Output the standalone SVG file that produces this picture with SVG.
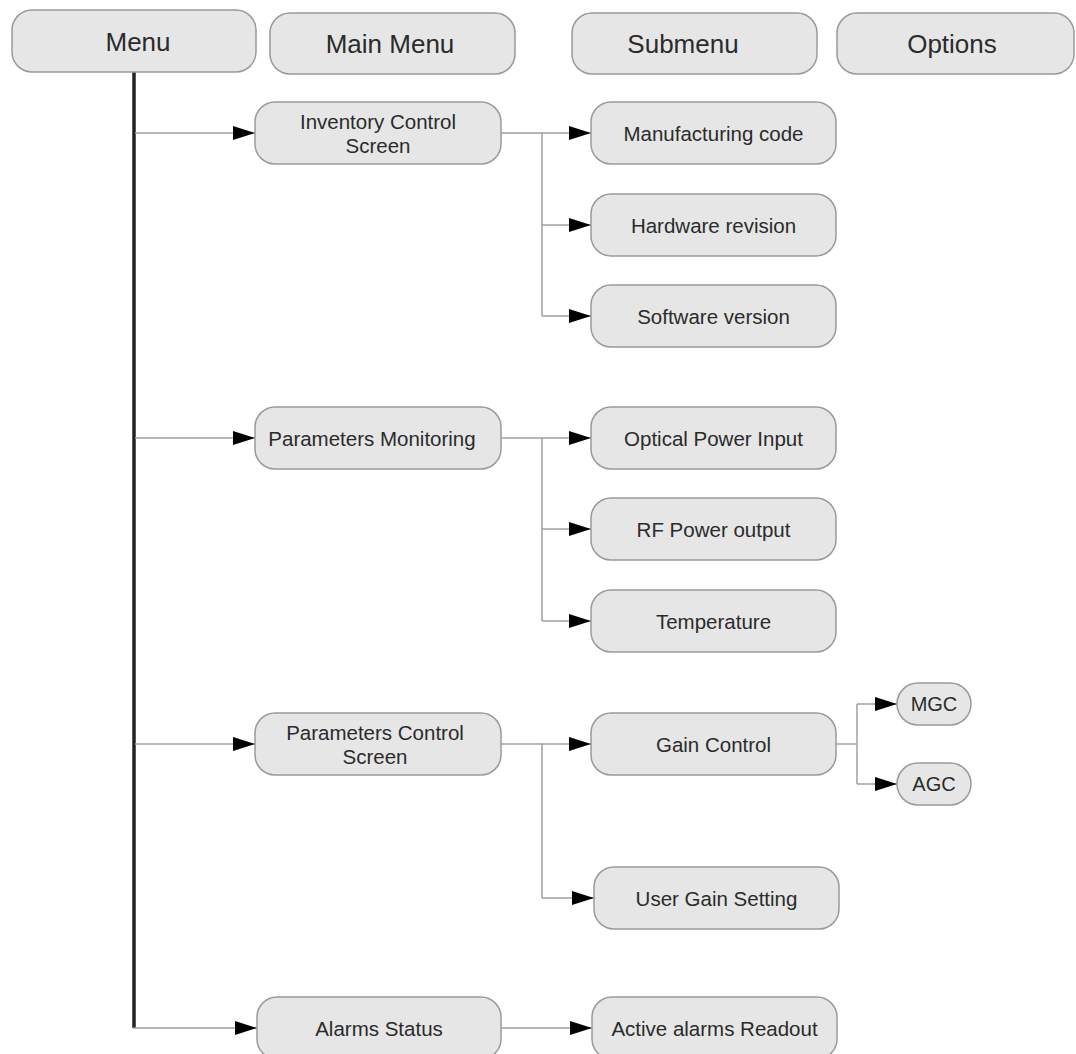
<svg xmlns="http://www.w3.org/2000/svg" width="1076" height="1054" viewBox="0 0 1076 1054">
<defs>
<style>
.box{fill:#e6e6e6;stroke:#9a9a9a;stroke-width:1.5}
.t{font-family:"Liberation Sans",Arial,sans-serif;font-size:20px;fill:#2b2b2b;text-anchor:middle;dominant-baseline:central}
.h{font-size:26px}
.s{font-size:20.5px}
.c{fill:none;stroke:#a0a0a0;stroke-width:1.5}
.main{fill:none;stroke:#222;stroke-width:3.5}
</style>
<marker id="arr" markerUnits="userSpaceOnUse" markerWidth="22" markerHeight="14" refX="22" refY="7" orient="auto">
<path d="M0,0 L22,7 L0,14 Z" fill="#000"/>
</marker>
</defs>
<rect width="1076" height="1054" fill="#fff"/>
<g id="connectors">
<path class="main" d="M134,72 V1028"/>
<path class="c" d="M135,133 H255" marker-end="url(#arr)"/>
<path class="c" d="M135,438 H255" marker-end="url(#arr)"/>
<path class="c" d="M135,744 H255" marker-end="url(#arr)"/>
<path class="c" d="M133,1028 H257" marker-end="url(#arr)"/>
<path class="c" d="M501,133 H542 V316"/>
<path class="c" d="M542,133 H591" marker-end="url(#arr)"/>
<path class="c" d="M542,225 H591" marker-end="url(#arr)"/>
<path class="c" d="M542,316 H591" marker-end="url(#arr)"/>
<path class="c" d="M501,438 H542 V621"/>
<path class="c" d="M542,438 H591" marker-end="url(#arr)"/>
<path class="c" d="M542,529 H591" marker-end="url(#arr)"/>
<path class="c" d="M542,621 H591" marker-end="url(#arr)"/>
<path class="c" d="M501,744 H542 V898"/>
<path class="c" d="M542,744 H591" marker-end="url(#arr)"/>
<path class="c" d="M542,898 H594" marker-end="url(#arr)"/>
<path class="c" d="M836,744 H857"/>
<path class="c" d="M857,704 V784"/>
<path class="c" d="M857,704 H897" marker-end="url(#arr)"/>
<path class="c" d="M857,784 H897" marker-end="url(#arr)"/>
<path class="c" d="M501,1028 H592" marker-end="url(#arr)"/>
</g>
<g id="hdr-menu"><rect class="box" x="12" y="10" width="244" height="62" rx="20"/><text class="t h" x="138" y="42">Menu</text></g>
<g id="hdr-mainmenu"><rect class="box" x="270" y="13" width="245" height="61" rx="20"/><text class="t h" x="390" y="44">Main Menu</text></g>
<g id="hdr-submenu"><rect class="box" x="572" y="13" width="245" height="61" rx="20"/><text class="t h" x="683" y="44">Submenu</text></g>
<g id="hdr-options"><rect class="box" x="837" y="13" width="237" height="61" rx="20"/><text class="t h" x="952" y="44">Options</text></g>
<g id="n-inventory"><rect class="box" x="255" y="102" width="246" height="62" rx="20"/><text class="t s" x="378" y="121">Inventory Control</text><text class="t s" x="378" y="145">Screen</text></g>
<g id="n-parmon"><rect class="box" x="255" y="407" width="246" height="62" rx="20"/><text class="t s" x="372" y="438">Parameters Monitoring</text></g>
<g id="n-parctl"><rect class="box" x="255" y="713" width="246" height="62" rx="20"/><text class="t s" x="375" y="732">Parameters Control</text><text class="t s" x="375" y="756">Screen</text></g>
<g id="n-alarms"><rect class="box" x="257" y="997" width="244" height="62" rx="20"/><text class="t s" x="379" y="1028">Alarms Status</text></g>
<g id="n-mfg"><rect class="box" x="591" y="102" width="245" height="62" rx="20"/><text class="t s" x="713.5" y="133">Manufacturing code</text></g>
<g id="n-hw"><rect class="box" x="591" y="194" width="245" height="62" rx="20"/><text class="t s" x="713.5" y="225">Hardware revision</text></g>
<g id="n-sw"><rect class="box" x="591" y="285" width="245" height="62" rx="20"/><text class="t s" x="713.5" y="316">Software version</text></g>
<g id="n-optical"><rect class="box" x="591" y="407" width="245" height="62" rx="20"/><text class="t s" x="713.5" y="438">Optical Power Input</text></g>
<g id="n-rf"><rect class="box" x="591" y="498" width="245" height="62" rx="20"/><text class="t s" x="713.5" y="529">RF Power output</text></g>
<g id="n-temp"><rect class="box" x="591" y="590" width="245" height="62" rx="20"/><text class="t s" x="713.5" y="621">Temperature</text></g>
<g id="n-gain"><rect class="box" x="591" y="713" width="245" height="62" rx="20"/><text class="t s" x="713.5" y="744">Gain Control</text></g>
<g id="n-ugs"><rect class="box" x="594" y="867" width="245" height="62" rx="20"/><text class="t s" x="716.5" y="898">User Gain Setting</text></g>
<g id="n-active"><rect class="box" x="592" y="997" width="245" height="62" rx="20"/><text class="t s" x="714.5" y="1028">Active alarms Readout</text></g>
<g id="n-mgc"><rect class="box" x="897" y="683" width="74" height="42" rx="21"/><text class="t" x="934" y="704">MGC</text></g>
<g id="n-agc"><rect class="box" x="897" y="763" width="74" height="42" rx="21"/><text class="t" x="934" y="784">AGC</text></g>
</svg>
